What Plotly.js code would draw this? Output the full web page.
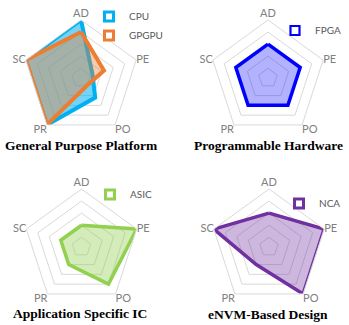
<!DOCTYPE html>
<html>
<head>
<meta charset="utf-8">
<script src="https://cdn.plot.ly/plotly-3.0.1.min.js"></script>
<style>html,body{margin:0;padding:0;background:#fff;}#chart{width:349px;height:325px;}</style>
</head>
<body>
<div id="chart"></div>
<script>
// Data
var axes = ['AD', 'PE', 'PO', 'PR', 'SC'];
var cpu   = [5, 1.2, 2.2, 5, 5];
var gpgpu = [4, 2.2, 1, 5, 5];
var fpga  = [3, 3, 3, 3, 3];
var asic  = [2, 5, 4, 2, 2];
var nca   = [3, 5, 5, 2, 5];
var panelTitles = ['General Purpose Platform', 'Programmable Hardware', 'Application Specific IC', 'eNVM-Based Design'];

var RMAX = 5;
function close(a) { return a.concat([a[0]]); }
var th = close(axes);

function area(vals, name, color, fill, width, sub) {
  return {
    type: 'scatterpolar', r: close(vals), theta: th, name: name,
    mode: 'lines', fill: 'toself', fillcolor: fill,
    line: {color: color, width: width, shape: 'linear'},
    subplot: sub, showlegend: false, hoverinfo: 'skip'
  };
}
function key(name, color, lw, sub, leg) {
  return {
    type: 'scatterpolar', r: [null], theta: [null], name: name,
    mode: 'markers', subplot: sub, legend: leg, showlegend: true,
    marker: {symbol: 'square', size: 9, color: '#ffffff', line: {color: color, width: lw}},
    hoverinfo: 'skip'
  };
}
function labels(sub) {
  return {
    type: 'scatterpolar', r: axes.map(function () { return RMAX; }), theta: axes,
    mode: 'text', text: axes, subplot: sub, showlegend: false, hoverinfo: 'skip', cliponaxis: false,
    textposition: ['top center', 'middle right', 'bottom right', 'bottom left', 'middle left'],
    textfont: {family: 'Lato, Liberation Sans, sans-serif', size: 11, color: '#808080'}
  };
}

var traces = [
  area(cpu, 'CPU', '#00b0f0', 'rgba(0,176,240,0.55)', 4, 'polar'),
  area(gpgpu, 'GPGPU', '#ed7d31', 'rgba(237,125,49,0.4)', 4, 'polar'),
  area(fpga, 'FPGA', '#0000ff', 'rgba(0,0,255,0.3)', 3.5, 'polar2'),
  area(asic, 'ASIC', '#92d050', 'rgba(146,208,80,0.4)', 3.5, 'polar3'),
  area(nca, 'NCA', '#7030a0', 'rgba(112,48,160,0.35)', 3.5, 'polar4'),
  labels('polar'), labels('polar2'), labels('polar3'), labels('polar4'),
  key('CPU', '#00b0f0', 3, 'polar', 'legend'),
  key('GPGPU', '#ed7d31', 3, 'polar', 'legend'),
  key('FPGA', '#0000ff', 2.2, 'polar2', 'legend2'),
  key('ASIC', '#92d050', 3, 'polar3', 'legend3'),
  key('NCA', '#7030a0', 3, 'polar4', 'legend4')
];

var W = 349, H = 325, R = 58;
function dom(cx, cy) {
  return {x: [(cx - R) / W, (cx + R) / W], y: [1 - (cy + R) / H, 1 - (cy - R) / H]};
}
function polar(cx, cy) {
  return {
    domain: dom(cx, cy),
    gridshape: 'linear',
    bgcolor: 'rgba(0,0,0,0)',
    radialaxis: {range: [0.2, RMAX], dtick: 1, tick0: 0, showticklabels: false, ticks: '', showline: false,
                 gridcolor: '#d9d9d9', gridwidth: 1},
    angularaxis: {direction: 'clockwise', rotation: 90, showgrid: false, ticks: '', showticklabels: false,
                  linecolor: '#d9d9d9', linewidth: 1}
  };
}
function leg(x, y) {
  return {x: x / W, y: 1 - y / H, xanchor: 'left', yanchor: 'top', bgcolor: 'rgba(0,0,0,0)',
          font: {family: 'Lato, Liberation Sans, sans-serif', size: 10, color: '#595959'},
          itemwidth: 30, tracegroupgap: 0};
}
function ttl(text, x, y) {
  return {text: text, x: x / W, y: 1 - y / H, xref: 'paper', yref: 'paper', showarrow: false,
          xanchor: 'center', yanchor: 'middle',
          font: {family: 'Liberation Serif, serif', size: 13.5, color: '#000000', weight: 'bold'}};
}

var layout = {
  width: W, height: H, margin: {l: 0, r: 0, t: 0, b: 0},
  paper_bgcolor: '#ffffff', plot_bgcolor: '#ffffff',
  polar: polar(81, 78),
  polar2: polar(268, 78),
  polar3: polar(81.5, 247),
  polar4: polar(269, 247),
  legend: leg(89, 2),
  legend2: leg(275, 16),
  legend3: leg(90, 180),
  legend4: leg(279, 189),
  annotations: [
    ttl(panelTitles[0], 81, 145),
    ttl(panelTitles[1], 268.5, 145.5),
    ttl(panelTitles[2], 79.5, 313),
    ttl(panelTitles[3], 268, 314.5)
  ]
};

Plotly.newPlot('chart', traces, layout, {staticPlot: true, displayModeBar: false});
</script>
</body>
</html>
